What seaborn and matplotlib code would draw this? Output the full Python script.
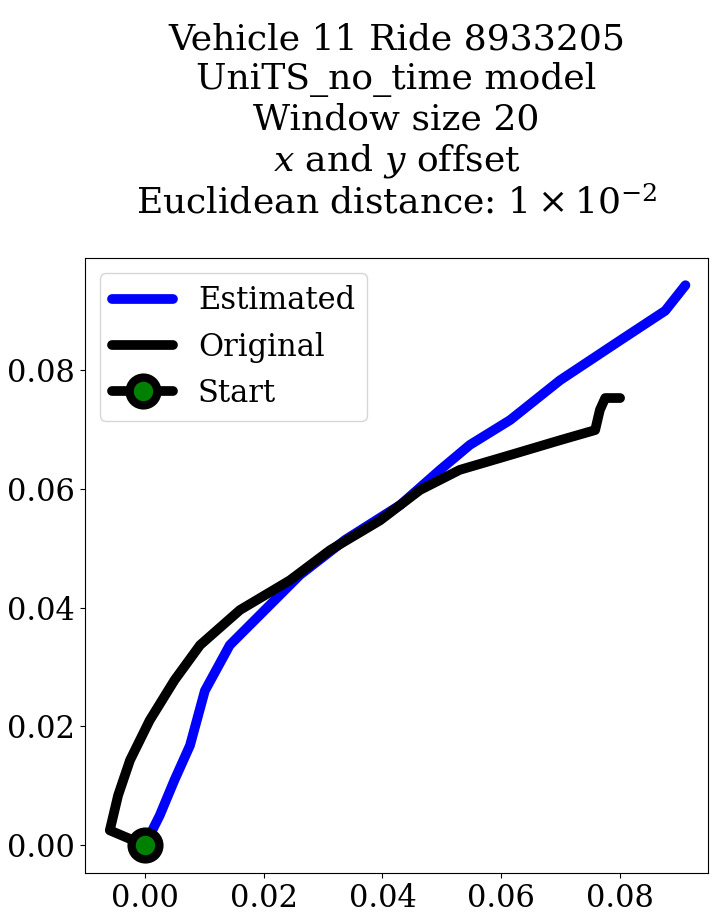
import matplotlib
matplotlib.use("Agg")
import matplotlib.pyplot as plt
import seaborn as sns
import pandas as pd

# Estimated trajectory (blue)
est_x = [0.0, 0.0025, 0.005, 0.0076, 0.0101, 0.0143, 0.0202, 0.0261, 0.0337, 0.043,
         0.0497, 0.0547, 0.0615, 0.0699, 0.08, 0.0876, 0.091]
est_y = [0.0, 0.005, 0.011, 0.0168, 0.026, 0.0337, 0.0396, 0.0455, 0.0514, 0.0573,
         0.0632, 0.0674, 0.0716, 0.0783, 0.085, 0.09, 0.0943]
# Original trajectory (black)
orig_x = [0.0, -0.0059, -0.0045, -0.0025, 0.0008, 0.005, 0.0093, 0.016, 0.0244, 0.0312,
          0.0396, 0.0463, 0.053, 0.0615, 0.0699, 0.0758, 0.0766, 0.0775, 0.08]
orig_y = [0.0, 0.0025, 0.0084, 0.0143, 0.021, 0.0278, 0.0337, 0.0396, 0.0446, 0.0497,
          0.0547, 0.0598, 0.0632, 0.0657, 0.0682, 0.0699, 0.0733, 0.0753, 0.0753]

sns.set_style("ticks")
plt.rcParams['font.family'] = ['DejaVu Serif']
plt.rcParams['mathtext.fontset'] = 'dejavuserif'
plt.rcParams['text.color'] = 'black'
plt.rcParams['xtick.color'] = 'black'
plt.rcParams['ytick.color'] = 'black'
plt.rcParams['axes.edgecolor'] = 'black'

fig = plt.figure(figsize=(7.13, 9.21), dpi=100)
ax = fig.add_axes([0.119, 0.052, 0.874, 0.668])

df_est = pd.DataFrame({'x': est_x, 'y': est_y})
df_orig = pd.DataFrame({'x': orig_x, 'y': orig_y})
sns.lineplot(data=df_est, x='x', y='y', sort=False, color='blue', lw=7, label='Estimated', ax=ax)
sns.lineplot(data=df_orig, x='x', y='y', sort=False, color='black', lw=7, label='Original', ax=ax)
ax.plot([0], [0], color='black', lw=7, marker='o', markersize=20, markerfacecolor='green',
        markeredgecolor='black', markeredgewidth=6, label='Start')

ax.set_xlim(-0.0101, 0.0948)
ax.set_ylim(-0.0047, 0.0989)
ax.set_xticks([0.0, 0.02, 0.04, 0.06, 0.08])
ax.set_yticks([0.0, 0.02, 0.04, 0.06, 0.08])
ax.set_xticklabels(['0.00', '0.02', '0.04', '0.06', '0.08'])
ax.set_yticklabels(['0.00', '0.02', '0.04', '0.06', '0.08'])
ax.tick_params(labelsize=22)
ax.set_xlabel('')
ax.set_ylabel('')
ax.legend(fontsize=22, loc='upper left')
ax.set_title("Vehicle 11 Ride 8933205\nUniTS_no_time model\nWindow size 20\n"
             "$x$ and $y$ offset\nEuclidean distance: $1\\times10^{-2}$",
             fontsize=26, pad=32, color='black')

fig.savefig('out.png', dpi=100)
